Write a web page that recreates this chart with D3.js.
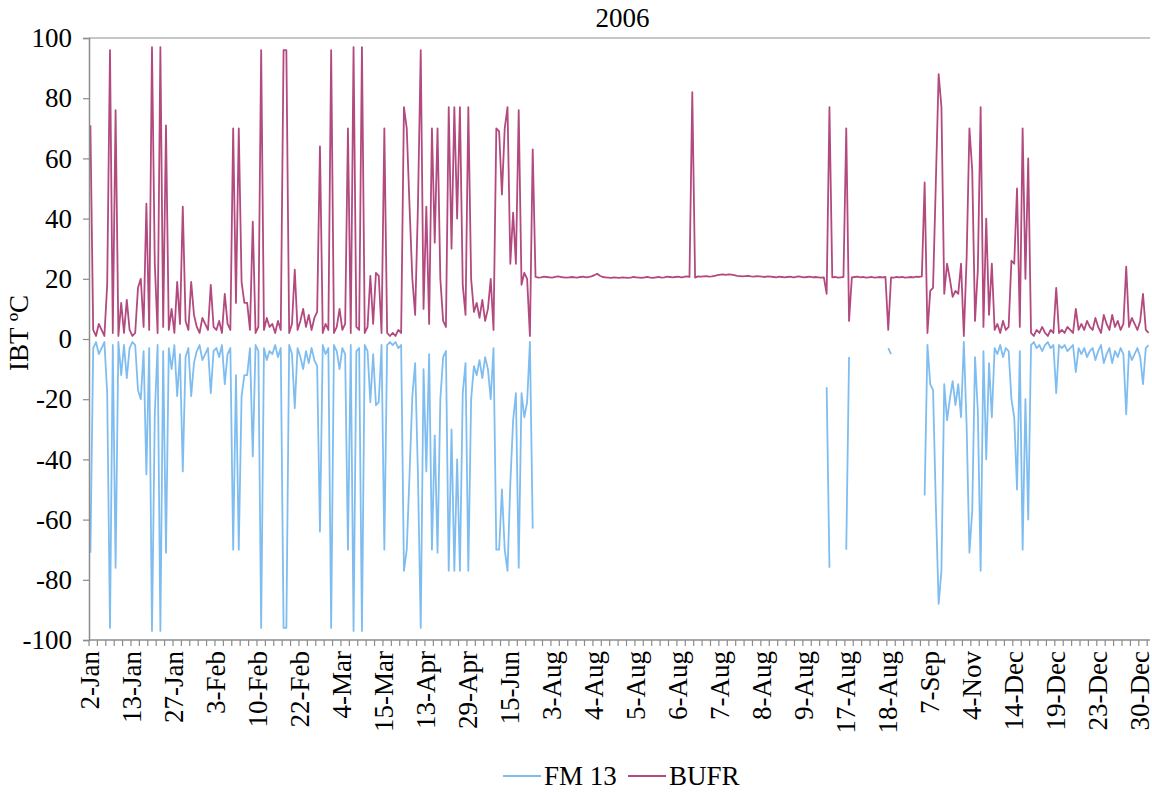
<!DOCTYPE html>
<html>
<head>
<meta charset="utf-8">
<script src="https://cdn.jsdelivr.net/npm/d3@7"></script>
<style>
  body { margin: 0; background: #fff; }
  text { font-family: "Liberation Serif", "Times New Roman", serif; fill: #000; }
</style>
</head>
<body>
<svg id="viz" width="1152" height="792"></svg>
<script>
// one label every 15 observations, one tick mark every 3
var labelStep = 15;
var tickStep = 3;
var dateLabels = ["2-Jan", "13-Jan", "27-Jan", "3-Feb", "10-Feb", "22-Feb", "4-Mar", "15-Mar",
    "13-Apr", "29-Apr", "15-Jun", "3-Aug", "4-Aug", "5-Aug", "6-Aug", "7-Aug", "8-Aug", "9-Aug",
    "17-Aug", "18-Aug", "7-Sep", "4-Nov", "14-Dec", "19-Dec", "23-Dec", "30-Dec"];
var yTicks = [-100, -80, -60, -40, -20, 0, 20, 40, 60, 80, 100];

// BUFR
var bufrSpring = [
    71, 3, 1, 5, 3, 1, 18, 96, 2, 76,
    1, 12, 2, 13, 3, 1, 2, 17, 20, 4,
    45, 3, 97, 25, 2, 97, 4, 71, 3, 10,
    2, 19, 5, 44, 6, 3, 19, 8, 4, 2,
    7, 5, 3, 18, 4, 3, 6, 2, 15, 5,
    3, 70, 12, 70, 19, 12, 12, 3, 39, 2,
    4, 96, 3, 7, 4, 5, 2, 6, 3, 96,
    96, 2, 5, 23, 3, 6, 10, 4, 8, 3,
    7, 9, 64, 2, 5, 3, 96, 2, 4, 10,
    3, 5, 70, 2, 97, 4, 3, 97, 2, 4,
    21, 5, 22, 21, 2, 70, 2, 1, 2, 1,
    3, 2, 77, 70, 44, 20, 8, 44, 96, 10,
    44, 5, 70, 32, 70, 20, 6, 4, 77, 30,
    77, 40, 77, 18, 8, 77, 20, 9, 12, 7,
    13, 6, 10, 20, 3, 70, 69, 48, 70, 77,
    25, 42, 25, 76, 18, 22, 20, 1, 63];
var bufrSummer = [
    20.6, 20.4, 20.5, 20.7, 20.6, 20.5, 20.4, 20.6, 20.8, 20.6,
    20.5, 20.4, 20.5, 20.6, 20.5, 20.4, 20.6, 20.7, 20.5, 20.6,
    20.8, 21.2, 21.7, 21.0, 20.6, 20.5, 20.4, 20.3, 20.5, 20.4,
    20.3, 20.5, 20.4, 20.3, 20.4, 20.6, 20.5, 20.4, 20.3, 20.5,
    20.6, 20.4, 20.3, 20.5, 20.6, 20.4, 20.5, 20.7, 20.6, 20.5,
    20.6, 20.7, 20.5, 20.6, 20.8, 20.6, 82, 20.4, 20.8, 20.7,
    20.8, 20.9, 20.7, 20.8, 21.0, 21.2, 21.4, 21.5, 21.3, 21.5,
    21.4, 21.2, 21.0, 20.9, 20.8, 20.9, 21.0, 20.8, 20.7, 20.9,
    20.8, 20.7, 20.6, 20.8, 20.7, 20.6, 20.5, 20.7, 20.6, 20.5,
    20.6, 20.7, 20.5, 20.6, 20.8, 20.6, 20.5, 20.6, 20.7, 20.5,
    20.6, 20.5, 20.4, 20.5, 15, 77, 20.5, 20.6, 20.4, 20.5,
    20.6, 70, 6, 20.5, 20.6, 20.7, 20.5, 20.6, 20.4, 20.5,
    20.6, 20.4, 20.5, 20.6, 20.5, 20.6, 3, 20.5, 20.4, 20.6,
    20.5, 20.6, 20.4, 20.5, 20.6, 20.5, 20.7, 20.6, 20.8];
var bufrAutumn = [
    52, 2, 16, 17, 52, 88, 77, 15, 25, 20,
    14, 16, 15, 25, 1, 27, 70, 56, 6, 23,
    77, 4, 40, 8, 25, 3, 5, 2, 6, 3,
    4, 26, 25, 50, 4, 70, 20, 60, 2];
var bufrWinter = [
    1, 3, 2, 4, 2, 1, 3, 2, 17, 2,
    3, 2, 4, 3, 2, 10, 3, 5, 3, 6,
    4, 3, 7, 4, 2, 8, 5, 3, 8, 4,
    6, 3, 5, 24, 4, 7, 5, 3, 6, 15,
    3, 2];

// FM 13 (no reports through most of August)
var fm13Spring = [
    -71, -3, -1, -5, -3, -1, -18, -96, -2, -76,
    -1, -12, -2, -13, -3, -1, -2, -17, -20, -4,
    -45, -3, -97, -25, -2, -97, -4, -71, -3, -10,
    -2, -19, -5, -44, -6, -3, -19, -8, -4, -2,
    -7, -5, -3, -18, -4, -3, -6, -2, -15, -5,
    -3, -70, -12, -70, -19, -12, -12, -3, -39, -2,
    -4, -96, -3, -7, -4, -5, -2, -6, -3, -96,
    -96, -2, -5, -23, -3, -6, -10, -4, -8, -3,
    -7, -9, -64, -2, -5, -3, -96, -2, -4, -10,
    -3, -5, -70, -2, -97, -4, -3, -97, -2, -4,
    -21, -5, -22, -21, -2, -70, -2, -1, -2, -1,
    -3, -2, -77, -70, -45, -19, -8, -45, -96, -10,
    -44, -5, -70, -32, -71, -20, -6, -4, -77, -30,
    -77, -40, -77, -18, -8, -77, -20, -9, -12, -7,
    -13, -6, -10, -20, -3, -70, -70, -50, -70, -77,
    -48, -27, -18, -76, -18, -26, -21, -1, -63];
// [observation index, value] for the few August reports
var fm13SummerObs = [[263, -16], [264, -76], [270, -70], [271, -6], [285, -3], [286, -5]];
var fm13Autumn = [
    -52, -2, -15, -17, -55, -88, -77, -15, -27, -20,
    -14, -22, -15, -26, -1, -29, -71, -57, -6, -24,
    -77, -4, -40, -8, -26, -3, -5, -2, -6, -3,
    -4, -20, -26, -50, -4, -70, -20, -60, -2];
var fm13Winter = [
    -1, -3, -2, -4, -2, -1, -3, -2, -18, -2,
    -3, -2, -4, -3, -2, -11, -3, -5, -3, -6,
    -4, -3, -7, -4, -2, -8, -5, -3, -8, -4,
    -6, -3, -5, -25, -4, -7, -5, -3, -6, -15,
    -3, -2];

var bufr = bufrSpring.concat(bufrSummer, bufrAutumn, bufrWinter);
var fm13 = fm13Spring.concat(bufrSummer.map(function () { return null; }), fm13Autumn, fm13Winter);
fm13SummerObs.forEach(function (d) { fm13[d[0]] = d[1]; });

var colorFM = "#7fbdf0";
var colorBUFR = "#b24a7f";
var axisColor = "#8c8c8c";
var fontSize = 27;

var plotLeft = 89, plotRight = 1150, plotTop = 38, plotBottom = 640;
var n = bufr.length;

var svg = d3.select("#viz");
var x = d3.scaleLinear().domain([0, n]).range([plotLeft, plotRight]);
var y = d3.scaleLinear().domain([-100, 100]).range([plotBottom, plotTop]);

// plot frame
svg.append("line").attr("x1", plotLeft).attr("x2", plotRight).attr("y1", plotTop).attr("y2", plotTop)
    .attr("stroke", "#b4b4b4").attr("stroke-width", 1.5);

// series
var line = d3.line()
    .defined(function (d) { return d !== null; })
    .x(function (d, i) { return x(i + 0.5); })
    .y(function (d) { return y(d); });

svg.append("path").datum(fm13)
    .attr("fill", "none").attr("stroke", colorFM).attr("stroke-width", 1.8)
    .attr("stroke-linejoin", "round").attr("d", line);
svg.append("path").datum(bufr)
    .attr("fill", "none").attr("stroke", colorBUFR).attr("stroke-width", 1.8)
    .attr("stroke-linejoin", "round").attr("d", line);

// y axis
var yAxis = svg.append("g").attr("transform", "translate(" + plotLeft + ",0)")
    .call(d3.axisLeft(y).tickValues(yTicks).tickSize(6).tickPadding(11)
        .tickFormat(function (d) { return String(d); }));
yAxis.select(".domain").attr("stroke", axisColor).attr("stroke-width", 1.5);
yAxis.selectAll(".tick line").attr("stroke", axisColor).attr("stroke-width", 1.2);
yAxis.selectAll(".tick text")
    .style("font-family", "'Liberation Serif', 'Times New Roman', serif")
    .style("font-size", fontSize + "px").attr("fill", "#000");

// x axis: line, tick marks every 3 observations, rotated labels every 15
var xAxis = svg.append("g");
xAxis.append("line").attr("x1", plotLeft).attr("x2", plotRight).attr("y1", plotBottom).attr("y2", plotBottom)
    .attr("stroke", axisColor).attr("stroke-width", 1.5);
xAxis.selectAll("line.tk").data(d3.range(0, n + 1, tickStep)).enter().append("line")
    .attr("class", "tk")
    .attr("x1", function (d) { return x(d); }).attr("x2", function (d) { return x(d); })
    .attr("y1", plotBottom).attr("y2", plotBottom + 6)
    .attr("stroke", axisColor).attr("stroke-width", 1.2);
xAxis.selectAll("text").data(dateLabels).enter().append("text")
    .attr("transform", function (d, i) {
        return "translate(" + x(i * labelStep + 0.5) + "," + (plotBottom + 11) + ") rotate(-90)";
    })
    .attr("text-anchor", "end").attr("dy", "0.33em")
    .style("font-size", fontSize + "px")
    .text(function (d) { return d; });

// titles
svg.append("text").attr("x", (plotLeft + plotRight) / 2 + 3).attr("y", 27).attr("text-anchor", "middle")
    .style("font-size", fontSize + "px").text("2006");
svg.append("text").attr("transform", "translate(28," + ((plotTop + plotBottom) / 2 - 6) + ") rotate(-90)")
    .attr("text-anchor", "middle").style("font-size", fontSize + "px").text("IBT ºC");

// legend
var legend = svg.append("g");
var legendItems = [
    { name: "FM 13", color: colorFM, x: 503 },
    { name: "BUFR", color: colorBUFR, x: 628 }
];
legendItems.forEach(function (d) {
    legend.append("line").attr("x1", d.x).attr("x2", d.x + 38).attr("y1", 776).attr("y2", 776)
        .attr("stroke", d.color).attr("stroke-width", 1.8);
    legend.append("text").attr("x", d.x + 41).attr("y", 785)
        .style("font-size", fontSize + "px").text(d.name);
});
</script>
</body>
</html>
